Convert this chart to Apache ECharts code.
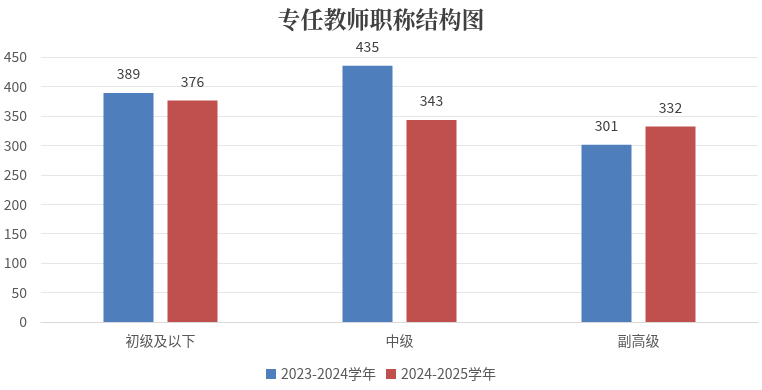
<!DOCTYPE html>
<html><head><meta charset="utf-8">
<script src="https://cdn.jsdelivr.net/npm/echarts@6/dist/echarts.min.js"></script>
<style>html,body{margin:0;padding:0;background:#fff}#c{width:762px;height:390px}</style>
</head><body><div id="c"></div>
<script>
const categories = ['初级及以下', '中级', '副高级'];
const series2023 = [389, 435, 301];
const series2024 = [376, 343, 332];
const seriesNames = ['2023-2024学年', '2024-2025学年'];
const font = '"Noto Sans CJK SC", "Noto Sans", sans-serif';
const chart = echarts.init(document.getElementById('c'));
chart.setOption({
  animation: false,
  backgroundColor: '#fff',
  title: {
    text: '专任教师职称结构图', left: 'center', top: 3,
    textStyle: { fontFamily: '"Noto Serif CJK SC", "Noto Sans CJK SC", serif', fontWeight: 'bold', fontSize: 23, color: '#404040' }
  },
  legend: {
    bottom: 4, left: 'center', itemWidth: 10, itemHeight: 10, itemGap: 10,
    icon: 'rect',
    textStyle: { fontFamily: font, fontSize: 14, color: '#595959' },
    data: seriesNames
  },
  grid: { left: 41, right: 4, top: 57, bottom: 68 },
  xAxis: {
    type: 'category', data: categories,
    axisLine: { lineStyle: { color: '#d9d9d9' } },
    axisTick: { show: false },
    axisLabel: { fontFamily: font, fontSize: 14, color: '#595959', margin: 12 }
  },
  yAxis: {
    type: 'value', min: 0, max: 450, interval: 50,
    axisLine: { show: false }, axisTick: { show: false },
    splitLine: { lineStyle: { color: '#e6e6e6' } },
    axisLabel: { fontFamily: font, fontSize: 14, color: '#595959', margin: 14 }
  },
  series: [
    { name: seriesNames[0], type: 'bar', data: series2023, barWidth: 50, barGap: '28%',
      itemStyle: { color: '#4F7EBD' },
      label: { show: true, position: 'top', distance: 12, fontFamily: font, fontSize: 14, color: '#404040' } },
    { name: seriesNames[1], type: 'bar', data: series2024, barWidth: 50,
      itemStyle: { color: '#C0504D' },
      label: { show: true, position: 'top', distance: 12, fontFamily: font, fontSize: 14, color: '#404040' } }
  ]
});
</script></body></html>
